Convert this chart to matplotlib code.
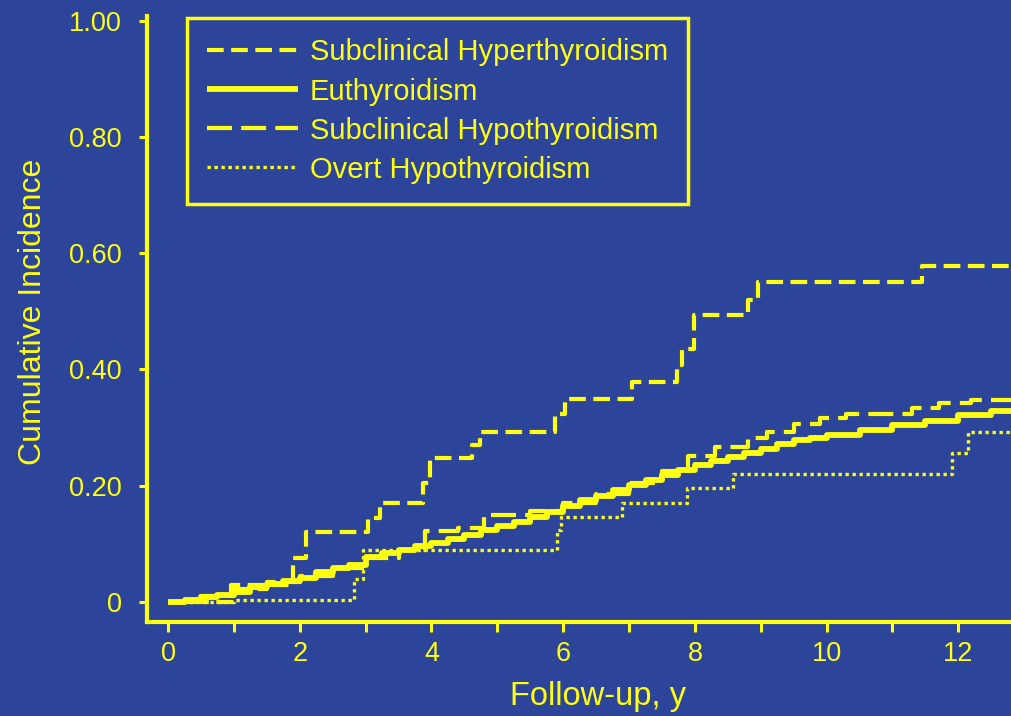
import numpy as np
import matplotlib
matplotlib.use("Agg")
import matplotlib.pyplot as plt
from matplotlib.ticker import MultipleLocator, FixedLocator

BG = "#2C4499"
YL = "#FFFF10"
plt.rcParams['font.family'] = ['Liberation Sans', 'DejaVu Sans']

# ---- data ----
XMAX = 12.8

hyper_t = [0, 0.95, 1.9, 2.1, 3.04, 3.22, 3.87, 3.98, 4.62, 4.74, 5.88, 6.03,
           7.05, 7.73, 7.8, 7.98, 8.8, 8.96, 11.45]
hyper_v = [0, 0.03, 0.075, 0.12, 0.145, 0.17, 0.204, 0.247, 0.27, 0.292, 0.324, 0.35,
           0.378, 0.407, 0.436, 0.493, 0.52, 0.55, 0.578]

eu_t = [0, 0.25, 0.5, 0.75, 1.0, 1.25, 1.5, 1.75, 2.0, 2.25, 2.5, 2.75, 3.0, 3.25,
        3.5, 3.75, 4.0, 4.25, 4.5, 4.75, 5.0, 5.25, 5.5, 5.75, 6.0, 6.25, 6.5, 6.75,
        7.0, 7.25, 7.5, 7.75, 8.0, 8.25, 8.5, 8.75, 9.0, 9.25, 9.5, 9.75, 10.0, 10.5,
        11.0, 11.5, 12.0, 12.5]
eu_v = [0, 0.004, 0.008, 0.012, 0.018, 0.026, 0.031, 0.036, 0.042, 0.052, 0.058,
        0.063, 0.078, 0.084, 0.089, 0.096, 0.102, 0.108, 0.115, 0.124, 0.13, 0.138,
        0.146, 0.155, 0.166, 0.175, 0.183, 0.192, 0.201, 0.21, 0.219, 0.227, 0.236,
        0.243, 0.249, 0.256, 0.264, 0.272, 0.278, 0.283, 0.288, 0.296, 0.304, 0.312,
        0.321, 0.328]

hypo_t = [0, 0.5, 1.0, 1.5, 2.0, 2.5, 3.0, 3.5, 3.9, 4.4, 4.8, 5.5, 6.0, 6.5, 7.0,
          7.5, 7.9, 8.3, 8.8, 9.1, 9.5, 9.9, 10.3, 11.3, 11.7, 12.2]
hypo_v = [0, 0.01, 0.022, 0.035, 0.045, 0.058, 0.075, 0.09, 0.122, 0.127, 0.15,
          0.156, 0.17, 0.185, 0.205, 0.225, 0.252, 0.266, 0.283, 0.292, 0.307, 0.316,
          0.324, 0.333, 0.342, 0.348]

overt_t = [0, 1.0, 2.82, 2.96, 5.91, 5.96, 6.9, 7.88, 8.58, 11.91, 12.15]
overt_v = [0, 0.004, 0.04, 0.09, 0.124, 0.146, 0.17, 0.196, 0.221, 0.256, 0.292]

labels = ["Subclinical Hyperthyroidism", "Euthyroidism",
          "Subclinical Hypothyroidism", "Overt Hypothyroidism"]
y_ticks = [0, 0.2, 0.4, 0.6, 0.8, 1.0]
y_ticklabels = ["0", "0.20", "0.40", "0.60", "0.80", "1.00"]
x_ticks = [0, 2, 4, 6, 8, 10, 12]

# ---- figure ----
fig = plt.figure(figsize=(10.11, 7.16), dpi=100)
fig.patch.set_facecolor(BG)
ax = fig.add_axes([147/1011, 1-622/716, 1-147/1011, (622-16)/716])
ax.set_facecolor(BG)

def ext(t, v):
    return np.append(t, XMAX), np.append(v, v[-1])

styles = [
    dict(lw=3.0, dashes=(4, 1.8)),
    dict(lw=4.2, linestyle='-'),
    dict(lw=3.0, dashes=(6, 2.2)),
    dict(lw=2.4, dashes=(1, 1.1)),
]
series = [(hyper_t, hyper_v), (eu_t, eu_v), (hypo_t, hypo_v), (overt_t, overt_v)]
for (t, v), st, lab in zip(series, styles, labels):
    tt, vv = ext(t, v)
    ax.step(tt, vv, where='post', color=YL, label=lab, solid_capstyle='butt',
            dash_capstyle='butt', **st)

ax.set_xlim(-0.32, XMAX)
ax.set_ylim(-0.0343, 1.008)

for s in ['top', 'right']:
    ax.spines[s].set_visible(False)
for s in ['left', 'bottom']:
    ax.spines[s].set_color(YL)
    ax.spines[s].set_linewidth(3)

ax.xaxis.set_major_locator(FixedLocator(x_ticks))
ax.xaxis.set_minor_locator(MultipleLocator(1))
ax.set_yticks(y_ticks)
ax.set_yticklabels(y_ticklabels)
ax.tick_params(axis='x', which='both', colors=YL, length=7, width=2.2,
               labelsize=19.5, pad=7)
ax.tick_params(axis='y', which='both', colors=YL, length=6, width=2.2,
               labelsize=19.5, pad=12)
for lab in ax.get_xticklabels() + ax.get_yticklabels():
    lab.set_color(YL)

fig.text(598/1011, 1-697/716, "Follow-up, y", color=YL, fontsize=23.5,
         ha='center', va='center')
fig.text(33/1011, 1-312/716, "Cumulative Incidence", color=YL, fontsize=23,
         ha='center', va='center', rotation=90)

leg = ax.legend(loc='upper left', bbox_to_anchor=(187/1011, 1-18/716),
                bbox_transform=fig.transFigure, borderaxespad=0,
                fontsize=21, handlelength=3.1, handletextpad=0.4,
                labelspacing=0.38, borderpad=0.7, fancybox=False,
                framealpha=1, facecolor=BG, edgecolor=YL)
leg.get_frame().set_linewidth(2.5)
for txt in leg.get_texts():
    txt.set_color(YL)

fig.savefig("out.png", dpi=100, facecolor=BG)
